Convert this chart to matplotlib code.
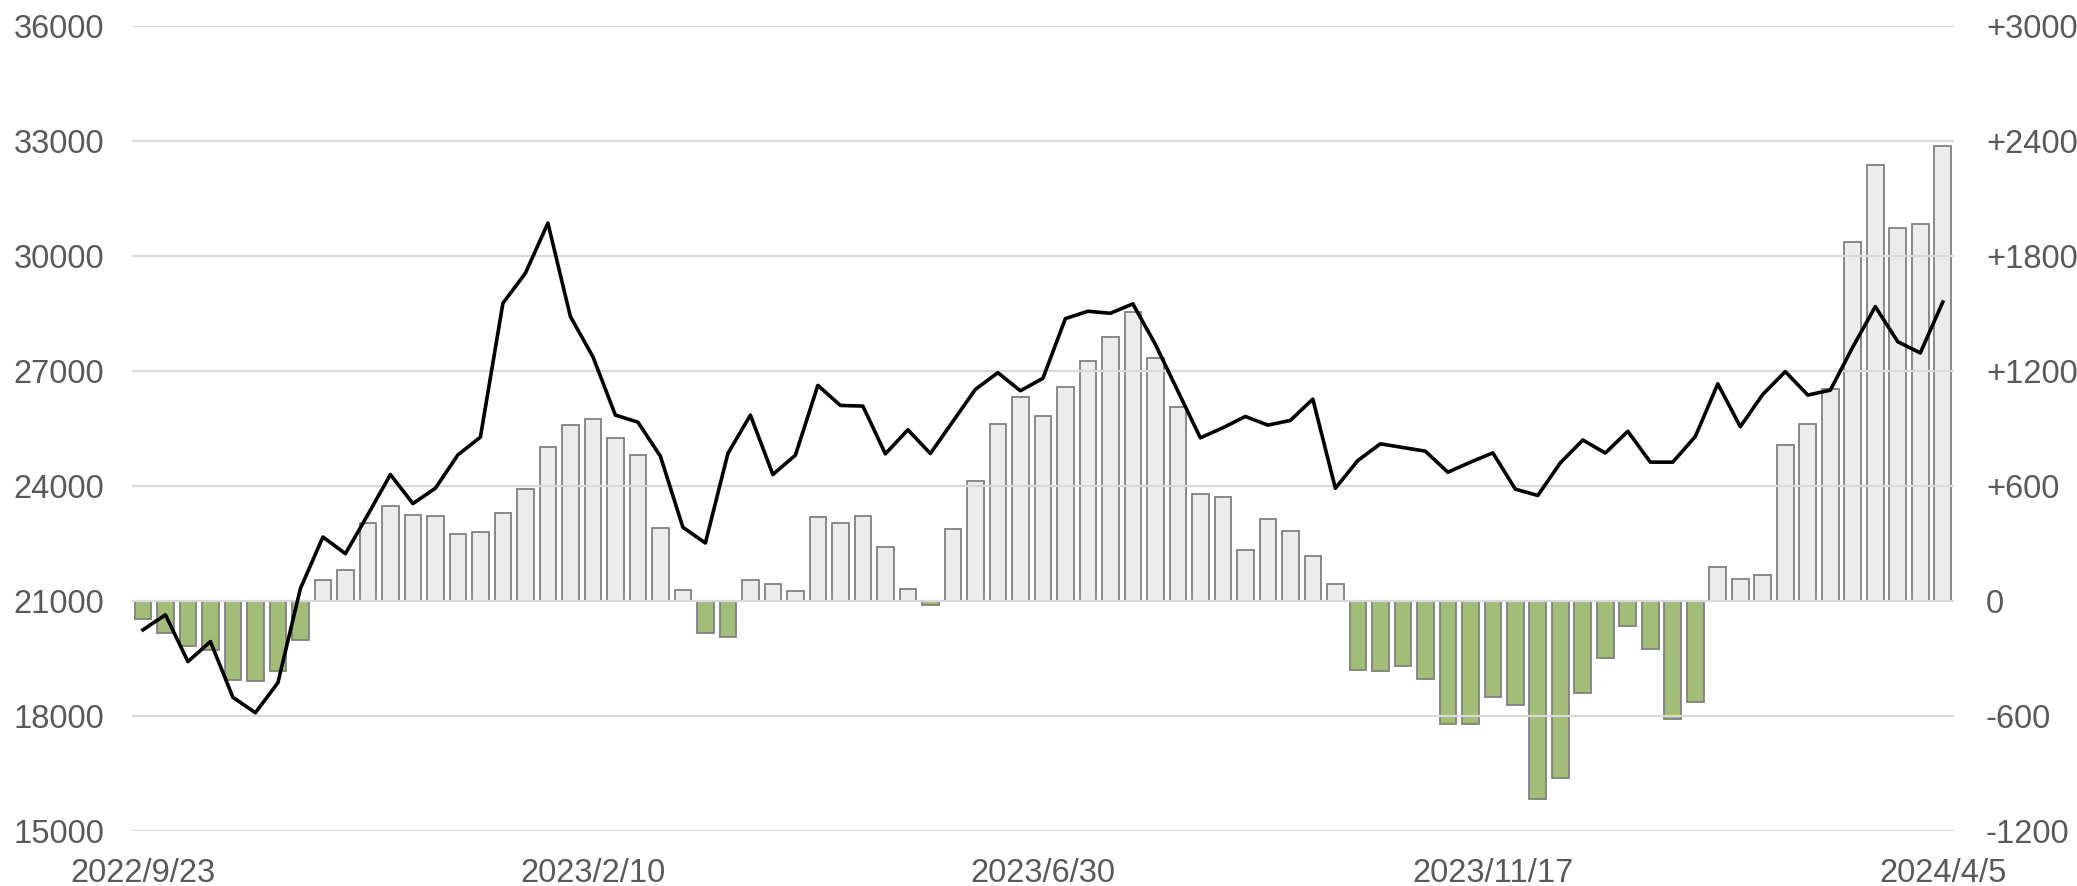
import matplotlib.pyplot as plt
from matplotlib.ticker import FuncFormatter
import numpy as np

plt.rcParams['font.family'] = ['Liberation Sans', 'DejaVu Sans']

# weekly data, 2022/9/23 .. 2024/4/5
dates = ['2022/9/23', '2023/2/10', '2023/6/30', '2023/11/17', '2024/4/5']
date_pos = [0, 20, 40, 60, 80]

# weekly change (right axis)
change = [-95, -169, -238, -259, -414, -421, -369, -205,
          110, 163, 405, 494, 450, 440, 348, 358, 456, 586, 802, 917,
          950, 852, 760, 381, 57, -169, -191, 110, 89, 49,
          435, 405, 445, 283, 61, -20, 374, 624, 925, 1066,
          962, 1118, 1252, 1376, 1508, 1269, 1009, 558, 541, 266,
          426, 365, 233, 90, -363, -365, -339, -409, -643, -643,
          -503, -546, -1037, -927, -480, -297, -130, -250, -619, -529,
          176, 113, 136, 815, 922, 1107, 1872, 2274, 1946, 1969,
          2373]

# level (left axis)
level = [20241, 20634, 19413, 19936, 18480, 18079, 18863, 21320,
         22664, 22229, 23250, 24294, 23536, 23937, 24808, 25270, 28764, 29548, 30856, 28416,
         27370, 25845, 25662, 24773, 22917, 22508, 24843, 25845, 24294, 24800,
         26621, 26098, 26080, 24834, 25462, 24843, 25680, 26516, 26952, 26481,
         26804, 28363, 28555, 28503, 28747, 27692, 26473, 25252, 25514, 25810,
         25584, 25706, 26263, 23937, 24660, 25096, 25000, 24904, 24355, 24616,
         24860, 23913, 23748, 24600, 25195, 24856, 25424, 24618, 24618, 25287,
         26661, 25543, 26386, 26981, 26368, 26496, 27623, 28676, 27760, 27467,
         28795]

x = np.arange(len(change))
change = np.array(change)

fig = plt.figure(figsize=(20.77, 8.86), dpi=100)
ax = fig.add_axes([0.0634, 0.0624, 0.9408 - 0.0634, 0.9707 - 0.0624])

# bars on the primary axes, ticks shown on the right
colors = np.where(change < 0, '#a2bd78', '#ececec')
ax.bar(x, change, width=0.74, color=colors, edgecolor='#808080', linewidth=1.3, zorder=1)
ax.set_ylim(-1200, 3000)
ax.set_yticks(np.arange(-1200, 3001, 600))
ax.yaxis.set_major_formatter(FuncFormatter(lambda v, p: f'+{int(v)}' if v > 0 else f'{int(v)}'))
ax.set_axisbelow(False)
ax.grid(axis='y', color='#d9d9d9', linewidth=1.6, zorder=2)
ax.set_xlim(-0.5, len(change) - 0.5)
ax.set_xticks(date_pos)
ax.set_xticklabels(dates)

# line on the twin axes, ticks on the left
ax2 = ax.twinx()
ax2.plot(x, level, color='black', linewidth=2.6, zorder=3)
ax2.set_ylim(15000, 36000)
ax2.set_yticks(np.arange(15000, 36001, 3000))
ax2.yaxis.tick_left()
ax.yaxis.tick_right()

for a in (ax, ax2):
    for s in a.spines.values():
        s.set_visible(False)
    a.tick_params(length=0, labelsize=23.5, labelcolor='#595959')
ax.tick_params(axis='y', pad=23)
ax2.tick_params(axis='y', pad=20)
ax.tick_params(axis='x', pad=20)

plt.savefig('out.png', dpi=100)
